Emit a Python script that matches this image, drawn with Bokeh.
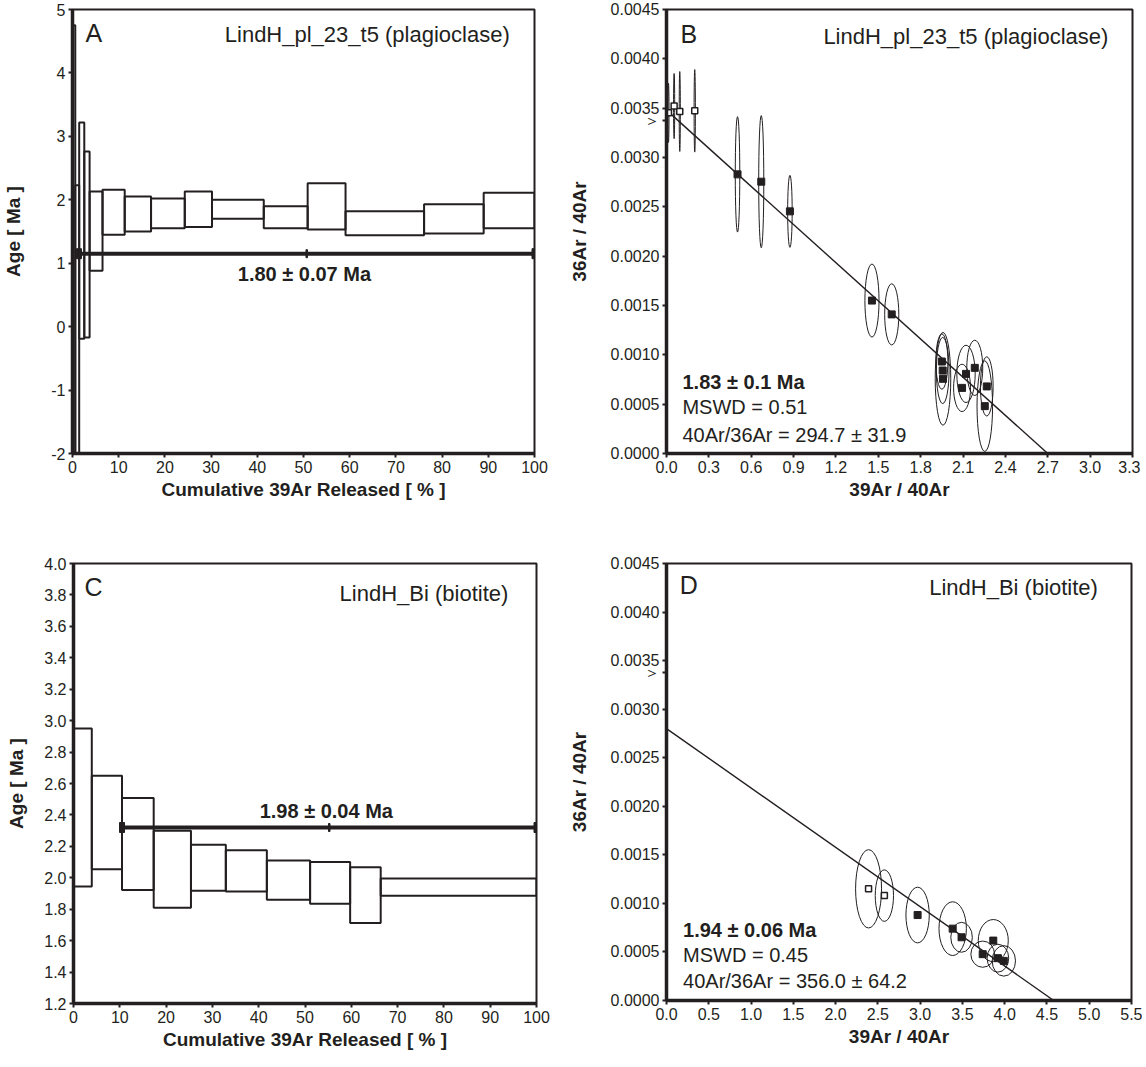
from bokeh.plotting import figure
from bokeh.models import FixedTicker, PrintfTickFormatter, Label, Range1d, ColumnDataSource, Title
from bokeh.layouts import row, column
from bokeh.embed import file_html
from bokeh.resources import INLINE

FONT = "Liberation Sans"
INK = "#231f20"

# ---------------- Data ----------------
# Panel A: LindH_pl_23_t5 (plagioclase) step heating spectrum
a_cum_left = [0.0, 0.6, 1.45, 2.55, 3.7, 6.5, 11.3, 17.0, 24.3, 30.2, 41.4, 50.9, 59.1, 76.1, 89.0]
a_cum_right = [0.6, 1.45, 2.55, 3.7, 6.5, 11.3, 17.0, 24.3, 30.2, 41.4, 50.9, 59.1, 76.1, 89.0, 100.0]
a_age_high = [4.75, 2.23, 3.22, 2.76, 2.13, 2.16, 2.05, 2.02, 2.13, 2.00, 1.90, 2.26, 1.82, 1.93, 2.11]
a_age_low = [-5.0, -5.0, -0.19, -0.17, 0.88, 1.45, 1.50, 1.55, 1.57, 1.70, 1.55, 1.53, 1.44, 1.47, 1.55]
a_plateau = [1.4, 100.0, 1.15]          # start %, end %, drawn level
a_plateau_text = "1.80 ± 0.07 Ma"

# Panel C: LindH_Bi (biotite) step heating spectrum
c_cum_left = [0.0, 3.95, 10.48, 17.32, 25.37, 32.9, 41.76, 51.1, 59.75, 66.35]
c_cum_right = [3.95, 10.48, 17.32, 25.37, 32.9, 41.76, 51.1, 59.75, 66.35, 100.0]
c_age_high = [2.95, 2.65, 2.507, 2.30, 2.21, 2.176, 2.11, 2.10, 2.067, 1.995]
c_age_low = [1.944, 2.054, 1.923, 1.81, 1.917, 1.913, 1.86, 1.834, 1.712, 1.885]
c_plateau = [10.48, 100.0, 2.32]
c_plateau_text = "1.98 ± 0.04 Ma"

# Panel B: isochron plagioclase (39Ar/40Ar, 36Ar/40Ar, ellipse widths)
b_open_x = [0.014, 0.054, 0.094, 0.20]
b_open_y = [0.003453, 0.003521, 0.003466, 0.003473]
b_open_w = [0.008, 0.008, 0.008, 0.009]
b_open_h = [0.00060, 0.00066, 0.00081, 0.00084]
b_fill_x = [0.503, 0.671, 0.874, 1.455, 1.595, 1.950, 1.956, 1.958, 2.121, 2.093, 2.183, 2.268, 2.254]
b_fill_y = [0.002829, 0.002755, 0.002454, 0.00155, 0.00141, 0.000932, 0.000841, 0.000757,
            0.000807, 0.000665, 0.000868, 0.00068, 0.00048]
b_fill_w = [0.032, 0.036, 0.032, 0.10, 0.10, 0.085, 0.09, 0.11, 0.13, 0.12, 0.113, 0.09, 0.11]
b_fill_h = [0.00117, 0.00134, 0.00073, 0.00074, 0.00062, 0.00056, 0.00067, 0.00094,
            0.00058, 0.00048, 0.00056, 0.00060, 0.00092]
b_iso_x = [0.0, 2.70]
b_iso_y = [0.00348, 0.0]
b_text = ["1.83 ± 0.1 Ma", "MSWD = 0.51", "40Ar/36Ar = 294.7 ± 31.9"]

# Panel D: isochron biotite
d_open_x = [2.39, 2.577]
d_open_y = [0.00115, 0.00108]
d_open_w = [0.307, 0.216]
d_open_h = [0.000806, 0.00053]
d_fill_x = [2.97, 3.385, 3.49, 3.865, 3.74, 3.92, 3.99]
d_fill_y = [0.00088, 0.00074, 0.000651, 0.000617, 0.000477, 0.000436, 0.000408]
d_fill_w = [0.276, 0.324, 0.255, 0.355, 0.28, 0.255, 0.276]
d_fill_h = [0.000574, 0.000554, 0.000308, 0.000434, 0.00027, 0.000287, 0.000314]
d_iso_x = [0.0, 4.58]
d_iso_y = [0.0028, 0.0]
d_text = ["1.94 ± 0.06 Ma", "MSWD = 0.45", "40Ar/36Ar = 356.0 ± 64.2"]

atm_ratio = 0.00338  # atmospheric 36Ar/40Ar marker on the y axis

a_xticks = list(range(0, 101, 10))
a_yticks = [-2, -1, 0, 1, 2, 3, 4, 5]
c_yticks = [1.2, 1.4, 1.6, 1.8, 2.0, 2.2, 2.4, 2.6, 2.8, 3.0, 3.2, 3.4, 3.6, 3.8, 4.0]
b_xticks = [0.0, 0.3, 0.6, 0.9, 1.2, 1.5, 1.8, 2.1, 2.4, 2.7, 3.0, 3.3]
d_xticks = [0.0, 0.5, 1.0, 1.5, 2.0, 2.5, 3.0, 3.5, 4.0, 4.5, 5.0, 5.5]
iso_yticks = [0.0, 0.0005, 0.0010, 0.0015, 0.0020, 0.0025, 0.0030, 0.0035, 0.0040, 0.0045]


def make_fig(fw, fh, bl, bt, br, bb, xr, yr, xticks, yticks, xfmt, yfmt, xlabel, xoff, ylabel,
             ylab_standoff, overrides=None):
    p = figure(frame_width=fw, frame_height=fh,
               min_border_left=bl, min_border_top=bt, min_border_right=br, min_border_bottom=bb,
               x_range=Range1d(*xr), y_range=Range1d(*yr),
               output_backend="svg", toolbar_location=None)
    p.outline_line_color = INK
    p.outline_line_width = 2
    p.outline_line_alpha = 1
    p.xgrid.visible = False
    p.ygrid.visible = False
    p.background_fill_color = "white"
    p.border_fill_color = "white"
    for ax in (p.xaxis[0], p.yaxis[0]):
        ax.axis_line_width = 3.5
        ax.axis_line_color = INK
        ax.major_tick_line_color = INK
        ax.major_tick_line_width = 2
        ax.major_tick_out = 4
        ax.major_tick_in = 0
        ax.minor_tick_line_color = None
        ax.major_label_text_font = FONT
        ax.major_label_text_font_size = "16px"
        ax.major_label_text_color = INK
        ax.major_label_standoff = 3
        ax.axis_label_text_font = FONT
        ax.axis_label_text_font_style = "bold"
        ax.axis_label_text_font_size = "19px"
        ax.axis_label_text_color = INK
    p.xaxis[0].ticker = FixedTicker(ticks=xticks)
    p.yaxis[0].ticker = FixedTicker(ticks=yticks)
    p.xaxis[0].formatter = PrintfTickFormatter(format=xfmt)
    p.yaxis[0].formatter = PrintfTickFormatter(format=yfmt)
    if overrides:
        p.yaxis[0].major_label_overrides = overrides
    p.yaxis[0].axis_label = ylabel
    p.yaxis[0].axis_label_standoff = ylab_standoff
    p.add_layout(Title(text=xlabel, align="center", offset=xoff, standoff=2, text_font=FONT,
                       text_font_size="19px", text_font_style="bold", text_color=INK), "below")
    return p


def add_label(p, x, y, text, size, align="left", bold=False):
    p.add_layout(Label(x=x, y=y, text=text, text_font=FONT, text_font_size=size,
                       text_color=INK, text_align=align, text_baseline="middle",
                       text_font_style="bold" if bold else "normal"))


def spectrum(p, left, right, top, bottom, plateau, ptext, ptx, pty):
    src = ColumnDataSource(dict(left=left, right=right, top=top, bottom=bottom))
    p.quad(left="left", right="right", top="top", bottom="bottom", source=src,
           fill_color=None, line_color=INK, line_width=2)
    p.segment(x0=[plateau[0]], y0=[plateau[2]], x1=[plateau[1]], y1=[plateau[2]],
              line_color=INK, line_width=4)
    mid = (plateau[0] + plateau[1]) / 2
    p.rect(x=[plateau[0], plateau[1]], y=[plateau[2], plateau[2]], width=5, height=10,
           width_units="screen", height_units="screen", fill_color=INK, line_color=INK)
    p.rect(x=[mid], y=[plateau[2]], width=1.5, height=8, width_units="screen",
           height_units="screen", fill_color=INK, line_color=INK)
    add_label(p, ptx, pty, ptext, "20px", align="center", bold=True)


def isochron(p, ox, oy, ow, oh, fx, fy, fw, fh, lx, ly, texts, tx, ty):
    p.ellipse(x=ox + fx, y=oy + fy, width=ow + fw, height=oh + fh,
              fill_color=None, line_color=INK, line_width=1)
    p.line(x=lx, y=ly, line_color=INK, line_width=1.4)
    p.scatter(x=ox, y=oy, marker="square", size=6, fill_color="white", line_color=INK, line_width=1.5)
    p.scatter(x=fx, y=fy, marker="square", size=7, fill_color=INK, line_color=INK)
    add_label(p, tx, ty[0], texts[0], "20px", bold=True)
    add_label(p, tx, ty[1], texts[1], "20px")
    add_label(p, tx, ty[2], texts[2], "20px")


iso_ticks_marked = iso_yticks + [atm_ratio]
atm_override = {atm_ratio: "\uff1e"}

# Panel A
pA = make_fig(462, 444, 72, 9, 31, 77, (0, 100), (-2, 5), a_xticks, a_yticks, "%d", "%d",
              "Cumulative 39Ar Released [ % ]", -13, "Age [ Ma ]", 24)
spectrum(pA, a_cum_left, a_cum_right, a_age_high, a_age_low, a_plateau, a_plateau_text, 50.2, 0.83)
add_label(pA, 2.8, 4.63, "A", "25px")
add_label(pA, 63.8, 4.61, "LindH_pl_23_t5 (plagioclase)", "22px", align="center")

# Panel B
pB = make_fig(466, 444, 91, 9, 8, 77, (0, 3.3), (0, 0.0045), b_xticks, iso_ticks_marked, "%.1f", "%.4f",
              "39Ar / 40Ar", 5, "36Ar / 40Ar", 18, atm_override)
isochron(pB, b_open_x, b_open_y, b_open_w, b_open_h, b_fill_x, b_fill_y, b_fill_w, b_fill_h,
         b_iso_x, b_iso_y, b_text, 0.113, [0.000725, 0.000472, 0.000186])
add_label(pB, 0.099, 0.004247, "B", "25px")
add_label(pB, 2.12, 0.00423, "LindH_pl_23_t5 (plagioclase)", "22px", align="center")

# Panel C
pC = make_fig(463, 440, 73, 28, 29, 53, (0, 100), (1.2, 4.0), a_xticks, c_yticks, "%d", "%.1f",
              "Cumulative 39Ar Released [ % ]", -13, "Age [ Ma ]", 14)
spectrum(pC, c_cum_left, c_cum_right, c_age_high, c_age_low, c_plateau, c_plateau_text, 54.6, 2.425)
add_label(pC, 2.37, 3.852, "C", "25px")
add_label(pC, 75.7, 3.81, "LindH_Bi (biotite)", "22px", align="center")

# Panel D
pD = make_fig(465, 437, 89, 33, 11, 51, (0, 5.5), (0, 0.0045), d_xticks, iso_ticks_marked, "%.1f", "%.4f",
              "39Ar / 40Ar", 8, "36Ar / 40Ar", 18, atm_override)
isochron(pD, d_open_x, d_open_y, d_open_w, d_open_h, d_fill_x, d_fill_y, d_fill_w, d_fill_h,
         d_iso_x, d_iso_y, d_text, 0.196, [0.000726, 0.00047, 0.000197])
add_label(pD, 0.157, 0.004282, "D", "25px")
add_label(pD, 4.105, 0.004248, "LindH_Bi (biotite)", "22px", align="center")

layout = column(row(pA, pB), row(pC, pD))
open("out.html", "w").write(file_html(layout, INLINE))
